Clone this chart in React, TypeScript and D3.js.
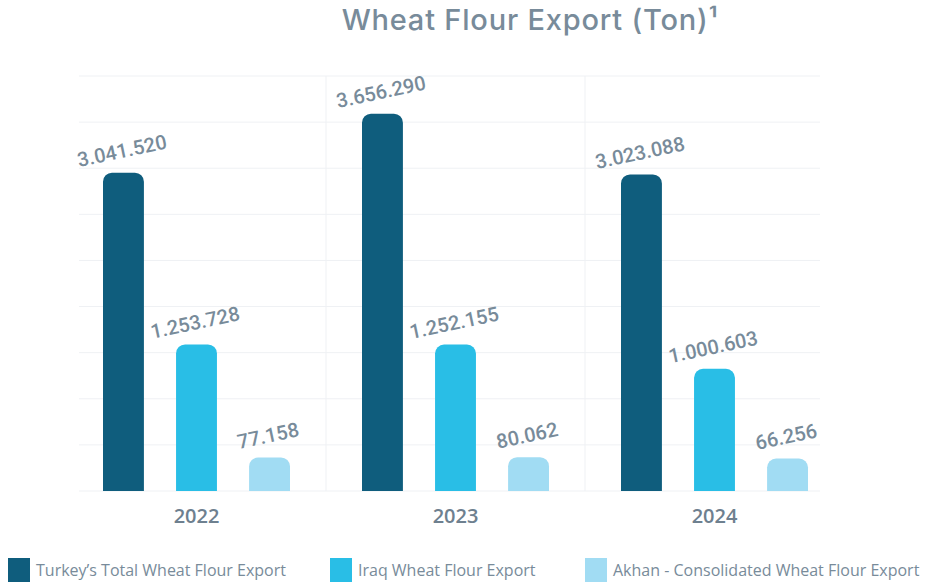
import React from "react";
import * as d3 from "d3";

// chart data
const years = ["2022", "2023", "2024"];
const seriesNames = [
  "Turkey’s Total Wheat Flour Export",
  "Iraq Wheat Flour Export",
  "Akhan - Consolidated Wheat Flour Export",
];
const turkeyTotal = [3041520, 3656290, 3023088];
const iraqExport = [1253728, 1252155, 1000603];
const akhanExport = [77158, 80062, 66256];
const seriesColors = ["#0f5d7d", "#29bee6", "#a1dcf3"];

const W = 926;
const H = 585;
const textColor = "#788b9a";
const gridColor = "#eff1f4";

const trFormat = d3.formatLocale({
  decimal: ",",
  thousands: ".",
  grouping: [3],
  currency: ["", ""],
}).format(",d");

// bar with only the top corners rounded
const roundedTop = (x: number, y: number, w: number, h: number, r: number) => {
  const rr = Math.min(r, w / 2, h / 2);
  return `M${x},${y + h}V${y + rr}A${rr},${rr} 0 0 1 ${x + rr},${y}H${x + w - rr}A${rr},${rr} 0 0 1 ${x + w},${y + rr}V${y + h}Z`;
};

export default function App() {
  const values = [turkeyTotal, iraqExport, akhanExport];
  const plotLeft = 79;
  const plotRight = 820;

  const x0 = d3.scaleBand().domain(years).range([67, 844]).padding(0);
  const x1 = d3
    .scaleBand()
    .domain(seriesNames)
    .range([0, 187])
    .paddingInner(0.44)
    .paddingOuter(0);
  const groupOffset = (x0.bandwidth() - 187) / 2;

  // baseline sits a little below zero, as in the source
  const y = d3.scaleLinear().domain([-272000, 4048000]).range([491, 76]);
  const gridValues = d3.range(10).map((i) => -272000 + i * 480000);

  return (
    <svg
      width={W}
      height={H}
      style={{ position: "absolute", left: 0, top: 0, background: "#fff" }}
      fontFamily="'Open Sans', sans-serif"
    >
      <text
        x={530}
        y={30}
        textAnchor="middle"
        fontFamily="Inter, sans-serif"
        fontSize={29}
        fontWeight={500}
        letterSpacing={0.8}
        fill={textColor}
      >
        Wheat Flour Export (Ton)¹
      </text>

      {/* grid */}
      <g>
        {gridValues.map((v, i) => (
          <line
            key={i}
            x1={plotLeft}
            x2={plotRight}
            y1={y(v)}
            y2={y(v)}
            stroke={gridColor}
            strokeWidth={1}
          />
        ))}
        {years.slice(1).map((yr) => (
          <line
            key={yr}
            x1={x0(yr)}
            x2={x0(yr)}
            y1={y(gridValues[gridValues.length - 1])}
            y2={y(gridValues[0])}
            stroke={gridColor}
            strokeWidth={1}
          />
        ))}
      </g>

      {/* bars + labels */}
      {years.map((yr, yi) => (
        <g key={yr} transform={`translate(${(x0(yr) as number) + groupOffset},0)`}>
          {seriesNames.map((s, si) => {
            const v = values[si][yi];
            const bx = x1(s) as number;
            const bw = x1.bandwidth();
            const top = y(v);
            const base = y(-272000);
            const cx = bx + bw / 2;
            const ly = top - 15;
            return (
              <g key={s}>
                <path d={roundedTop(bx, top, bw, base - top, 9)} fill={seriesColors[si]} />
                <text
                  x={cx}
                  y={ly}
                  textAnchor="middle"
                  fontFamily="Roboto, sans-serif"
                  fontSize={20}
                  fontWeight={500}
                  fill={textColor}
                  transform={`rotate(-12,${cx},${ly})`}
                >
                  {trFormat(v)}
                </text>
              </g>
            );
          })}
        </g>
      ))}

      {/* year labels */}
      {years.map((yr) => (
        <text
          key={yr}
          x={(x0(yr) as number) + x0.bandwidth() / 2}
          y={523}
          textAnchor="middle"
          fontSize={20}
          fontWeight={600}
          fill="#6e808f"
        >
          {yr}
        </text>
      ))}

      {/* legend */}
      {seriesNames.map((s, i) => {
        const lx = [8, 330, 585][i];
        return (
          <g key={s} transform={`translate(${lx},558)`}>
            <rect width={22} height={24} fill={seriesColors[i]} />
            <text x={28} y={18} fontSize={16} fill={textColor}>
              {s}
            </text>
          </g>
        );
      })}
    </svg>
  );
}
